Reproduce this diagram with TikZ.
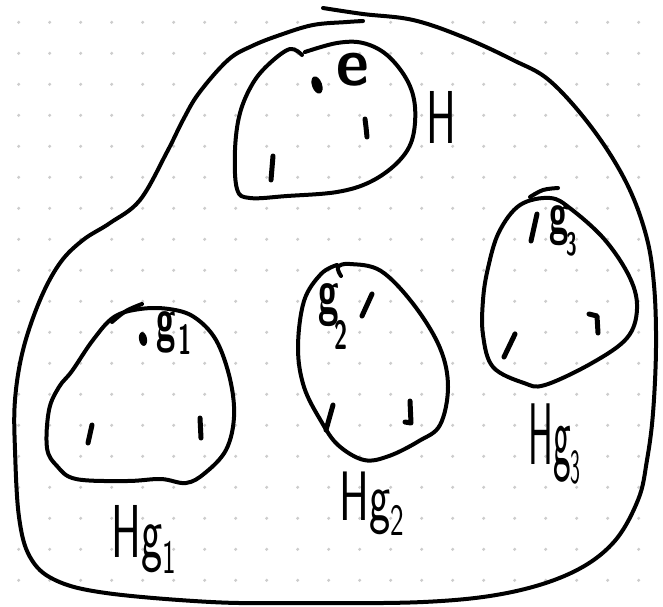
\documentclass[tikz,border=0pt]{standalone}
\usepackage{graphicx}
\definecolor{griddot}{HTML}{CDCDCD}
\tikzset{
  ink/.style={line width=4pt, line cap=round, line join=round, black},
  elem/.style={line width=5pt, line cap=round, line join=round, black},
  biglabel/.style={inner sep=0pt, anchor=base west, font=\sffamily\fontsize{50}{50}\selectfont},
  smalllabel/.style={inner sep=0pt, anchor=base west, font=\sffamily\bfseries\fontsize{44}{44}\selectfont},
}
\begin{document}
\begin{tikzpicture}[x=1pt,y=-1pt]
\useasboundingbox (0,0) rectangle (663,606);
\fill[white] (0,0) rectangle (663,606);
% dot grid
\foreach \i in {0,...,20}{
  \foreach \j in {0,...,18}{
    \fill[griddot] (18.7+31*\i,22.3+31*\j) circle (1.7pt);
  }
}
% outer set G
\draw[ink] plot[smooth, tension=0.6] coordinates {
 (363,21) (347,22) (313,25) (280,35) (252,46) (228,60) (199,93) (183,120) (167,152)
 (140,200) (110,223) (83,240) (60,263) (40,300) (23,350) (15,400) (15,450)
 (19,517) (30,557) (55,580) (106,593) (211,602) (296,603) (423,602) (507,593)
 (571,573) (613,543) (638,500) (647,460) (653,413) (656,347) (654,285) (646,235)
 (626,182) (592,128) (550,81) (513,60) (463,37) (413,20) (363,14) (323,8)};
% subgroup H
\draw[ink] plot[smooth, tension=0.6] coordinates {
 (305,52) (337,43) (363,43) (387,55) (407,80) (415,107) (412,140) (397,163)
 (370,182) (337,192) (287,196) (250,198) (237,189) (235,150) (240,113) (253,83)
 (270,63) (290,49) (302,55)};
% coset Hg1
\draw[ink] plot[smooth cycle, tension=0.6] coordinates {
 (114,317) (140,309) (169,309) (194,317) (216,340) (230,379) (234,417) (226,450)
 (205,473) (186,483) (161,479) (127,481) (76,479) (57,466) (47,448) (49,410)
 (59,387) (72,371) (93,340)};
\draw[ink] plot[smooth, tension=0.6] coordinates {(112,322) (126,311) (142,304)};
% coset Hg2
\draw[ink] plot[smooth, tension=0.6] coordinates {
 (341,276) (338,267) (350,264) (381,271) (414,305) (440,348) (448,387) (440,425)
 (419,441) (389,456) (364,460) (338,445) (321,421) (304,387) (298,348) (304,301)
 (321,274) (337,265)};
% coset Hg3
\draw[ink] plot[smooth cycle, tension=0.6] coordinates {
 (550,198) (571,209) (605,240) (630,278) (637,309) (627,338) (592,363) (545,385)
 (524,383) (493,367) (483,335) (483,300) (488,268) (499,232) (520,205)};
\draw[ink] plot[smooth, tension=0.6] coordinates {(530,197) (543,190) (558,188)};
% elements of H
\fill[rotate around={20:(317,85)}] (317,85) ellipse (5pt and 9pt);
\draw[elem] (365,119) -- (366,127) -- (367,137);
\draw[elem] (273,156) -- (271,180);
% elements of Hg1
\fill[rotate around={10:(143,339)}] (143,339) ellipse (4pt and 7pt);
\draw[elem] (92,425) -- (88,443);
\draw[elem] (200,418) -- (201,438);
% elements of Hg2
\draw[elem] (372,294) -- (362,316);
\draw[elem] (333,405) -- (326,430);
\draw[elem] (410,401) -- (411,423) -- (405,422);
% elements of Hg3
\draw[elem] (537,214) -- (531,241);
\draw[elem] (589,314) -- (597,316) -- (598,333);
\draw[elem] (515,334) -- (504,357);
% inner labels
\node[smalllabel] (le) at (336,85) {\scalebox{1.45}[1.55]{e}};
\node[smalllabel] (lg1) at (156,340) {\scalebox{0.8}[1.4]{g\kern4pt\raisebox{-10pt}{\fontsize{30}{30}\selectfont 1}}};
\node[smalllabel] (lg2) at (318,313) {\scalebox{0.85}[1.45]{g\kern-5pt\raisebox{-25pt}{\fontsize{28}{28}\selectfont 2}}};
\node[smalllabel] (lg3) at (549,233) {\scalebox{0.8}[1.35]{g\kern-3pt\raisebox{-17pt}{\fontsize{24}{24}\selectfont 3}}};
% coset names
\node[biglabel, anchor=center] (lH) at (441,117) {\scalebox{0.9}[1.5]{H}};
\node[biglabel] (lHg1) at (111,557) {\scalebox{0.9}[1.5]{Hg\raisebox{-11pt}{\fontsize{32}{32}\selectfont 1}}};
\node[biglabel] (lHg2) at (339,520) {\scalebox{0.9}[1.4]{Hg\raisebox{-11pt}{\fontsize{32}{32}\selectfont 2}}};
\node[biglabel] (lHg3) at (528,464) {\scalebox{0.75}[1.75]{Hg\raisebox{-11pt}{\fontsize{28}{28}\selectfont 3}}};
\end{tikzpicture}
\end{document}
